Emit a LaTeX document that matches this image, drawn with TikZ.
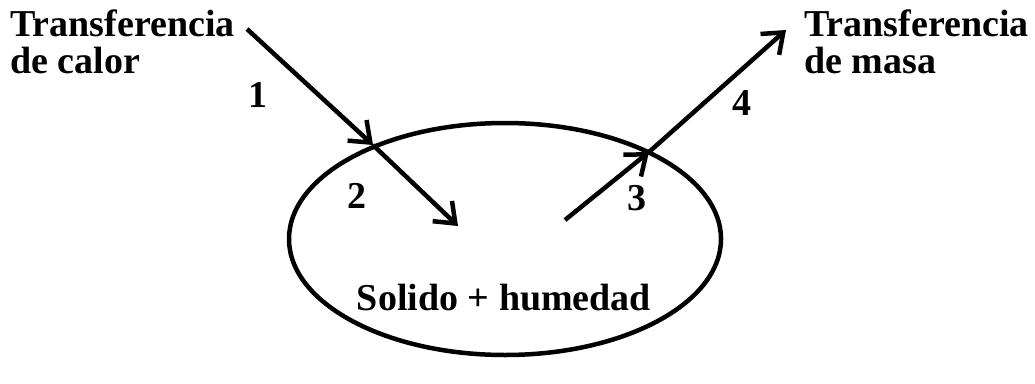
\documentclass[tikz,border=0pt]{standalone}
\usepackage{fontspec}
\setmainfont{Liberation Serif}
\usetikzlibrary{arrows.meta,shapes.geometric}
\begin{document}
\begin{tikzpicture}[x=1pt,y=-1pt,
  lbl/.style={font=\fontsize{38}{37}\selectfont\bfseries, inner sep=0pt, align=left},
  num/.style={font=\fontsize{38}{37}\selectfont\bfseries, inner sep=0pt},
  flow/.style={line width=4.5pt, -{Straight Barb[length=18pt,width=28pt,line width=4.5pt]}}]
\useasboundingbox (0,0) rectangle (1035,383);
\node[draw, line width=4.5pt, ellipse, minimum width=432pt, minimum height=232pt, inner sep=0pt] (sol) at (505,239) {};
\node[lbl, anchor=north west] (calor) at (10,10) {Transferencia\\de calor};
\node[lbl, anchor=north west] (masa) at (804,10) {Transferencia\\de masa};
\node[num] (n1) at (258,95) {1};
\node[num] (n2) at (357,196) {2};
\node[num] (n3) at (637,198) {3};
\node[num] (n4) at (742,103) {4};
\node[num] (txt) at (504,298) {Solido + humedad};
\coordinate (a1) at (247,29);
\coordinate (a2) at (373,145);
\coordinate (a3) at (458,226);
\coordinate (b1) at (565,220);
\coordinate (b2) at (649,152);
\coordinate (b3) at (786,30);
\draw[flow] (a1) -- (a2);
\draw[flow] (a2) -- (a3);
\draw[flow] (b1) -- (b2);
\draw[flow] (b2) -- (b3);
\end{tikzpicture}
\end{document}
